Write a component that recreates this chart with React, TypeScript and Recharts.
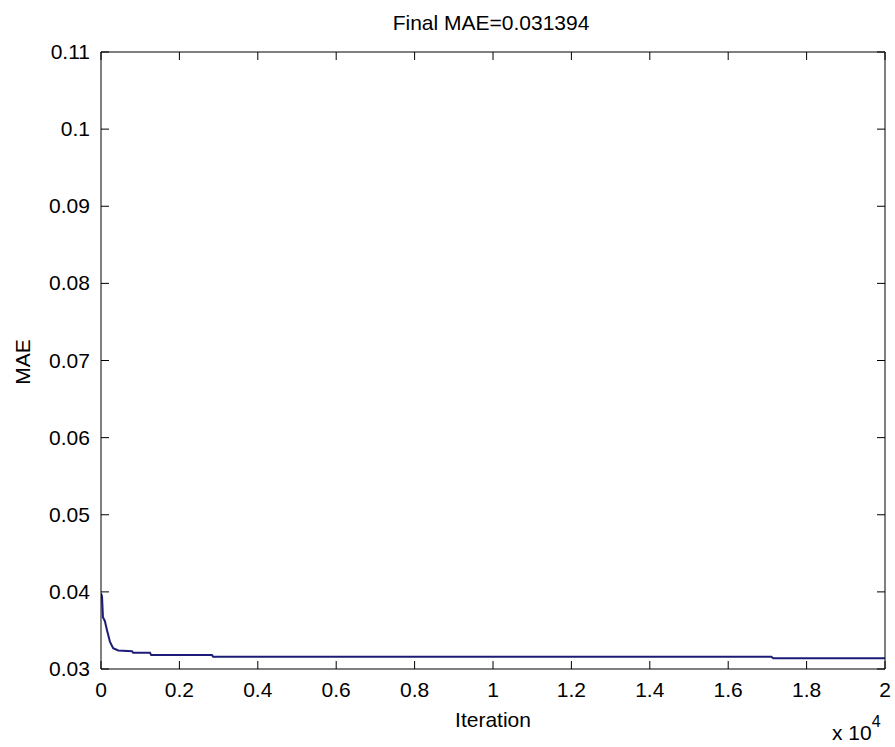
import { LineChart, Line, XAxis, YAxis } from 'recharts';

// iteration count in units of 10^4
const iterations = [
  0, 0.0026, 0.005, 0.01, 0.015, 0.023, 0.031, 0.044, 0.079, 0.082,
  0.125, 0.128, 0.283, 0.286, 1.71, 1.715, 2.0,
];
const maeValues = [
  0.0398, 0.0394, 0.0367, 0.0362, 0.0351, 0.0335, 0.0327, 0.0324, 0.0323, 0.0321,
  0.0321, 0.0318, 0.0318, 0.0316, 0.0316, 0.031394, 0.031394,
];
const xTicks = [0, 0.2, 0.4, 0.6, 0.8, 1, 1.2, 1.4, 1.6, 1.8, 2];
const yTicks = [0.03, 0.04, 0.05, 0.06, 0.07, 0.08, 0.09, 0.1, 0.11];

const data = iterations.map((it, i) => ({ it, mae: maeValues[i] }));

const FONT = '"Liberation Sans", Arial, sans-serif';
const TL = 8;
const TINY = 0.001; // tickSize/tickMargin of 0 fall back to defaults
const fmt = (v: number) => String(Number(v.toFixed(3)));

function BottomTick({ x, y, payload }: any) {
  return (
    <g>
      <line x1={x} y1={y} x2={x} y2={y - TL} stroke="#000" />
      <text x={x} y={y + 28} textAnchor="middle" fontSize={21} fontFamily={FONT} fill="#000">
        {fmt(payload.value)}
      </text>
    </g>
  );
}

function LeftTick({ x, y, payload }: any) {
  return (
    <g>
      <line x1={x} y1={y} x2={x + TL} y2={y} stroke="#000" />
      <text x={x - 11} y={y + 7} textAnchor="end" fontSize={21} fontFamily={FONT} fill="#000">
        {fmt(payload.value)}
      </text>
    </g>
  );
}

function TopTick({ x, y }: any) {
  return <line x1={x} y1={y} x2={x} y2={y + TL} stroke="#000" />;
}

function RightTick({ x, y }: any) {
  return <line x1={x} y1={y} x2={x - TL} y2={y} stroke="#000" />;
}

export default function App() {
  return (
    <div style={{ position: 'absolute', left: 0, top: 0, width: 895, height: 747, background: '#fff' }}>
      <LineChart width={895} height={747} data={data} margin={{ top: 51, right: 9, bottom: 0, left: 0 }}>
        <XAxis
          dataKey="it" type="number" domain={[0, 2]} ticks={xTicks} interval={0}
          height={78} tickSize={TINY} tickMargin={TINY} tick={BottomTick} tickLine={false}
          axisLine={{ stroke: '#000' }} allowDataOverflow
        />
        <XAxis
          xAxisId="top" orientation="top" dataKey="it" type="number" domain={[0, 2]} ticks={xTicks}
          interval={0} height={1} tickSize={TINY} tickMargin={TINY} tick={TopTick} tickLine={false}
          axisLine={{ stroke: '#000' }} allowDataOverflow
        />
        <YAxis
          type="number" domain={[0.03, 0.11]} ticks={yTicks} interval={0}
          width={101} tickSize={TINY} tickMargin={TINY} tick={LeftTick} tickLine={false}
          axisLine={{ stroke: '#000' }} allowDataOverflow
        />
        <YAxis
          yAxisId="right" orientation="right" type="number" domain={[0.03, 0.11]} ticks={yTicks}
          interval={0} width={1} tickSize={TINY} tickMargin={TINY} tick={RightTick} tickLine={false}
          axisLine={{ stroke: '#000' }} allowDataOverflow
        />
        <Line
          xAxisId="top" yAxisId="right" dataKey="mae" type="linear" stroke="none"
          dot={false} activeDot={false} isAnimationActive={false} legendType="none"
        />
        <Line
          dataKey="mae" type="linear" stroke="#1c1c78" strokeWidth={2}
          dot={false} isAnimationActive={false}
        />
        <text x={491} y={30} textAnchor="middle" fontSize={21} fontFamily={FONT} fill="#000">
          Final MAE=0.031394
        </text>
        <text x={493} y={727} textAnchor="middle" fontSize={21} fontFamily={FONT} fill="#000">
          Iteration
        </text>
        <text x={832} y={740} fontSize={21} fontFamily={FONT} fill="#000">
          x 10<tspan dy={-13} fontSize={16}>4</tspan>
        </text>
        <text
          x={30} y={362} textAnchor="middle" fontSize={21} fontFamily={FONT} fill="#000"
          transform="rotate(-90, 30, 362)"
        >
          MAE
        </text>
      </LineChart>
    </div>
  );
}
